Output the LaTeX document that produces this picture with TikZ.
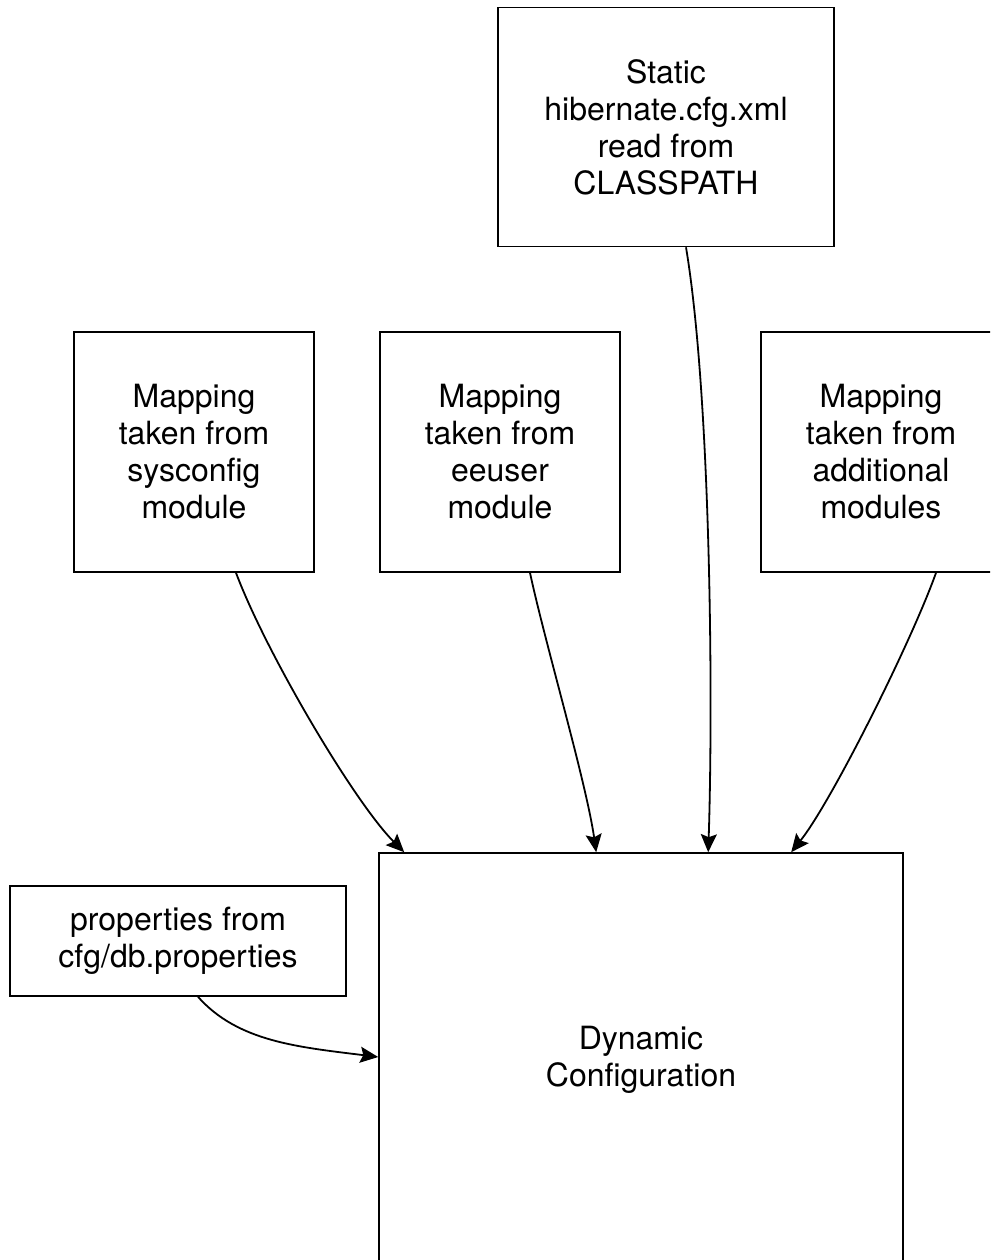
\documentclass[tikz,border=0pt]{standalone}
\usepackage{fontspec}
\setmainfont{TeX Gyre Heros}
\usetikzlibrary{arrows.meta}
\tikzset{
  box/.style={draw, line width=1.6pt, align=center, inner sep=0pt,
    font=\fontsize{32}{37}\selectfont},
  conn/.style={draw, line width=1.8pt, arrows={-Stealth[length=18pt,width=16pt,inset=3pt]}}
}
\begin{document}
\begin{tikzpicture}[x=1pt,y=-1pt]
      \useasboundingbox (0,0) rectangle (990,1260);
      \clip (0,0) rectangle (990,1260);
      \node[box, minimum width=336pt, minimum height=239pt] (static) at (666,127)
        {Static\\hibernate.cfg.xml\\read from\\CLASSPATH};
      \node[box, minimum width=240pt, minimum height=240pt] (sysconfig) at (194,452)
        {Mapping\\taken from\\sysconfig\\module};
      \node[box, minimum width=240pt, minimum height=240pt] (eeuser) at (500,452)
        {Mapping\\taken from\\eeuser\\module};
      \node[box, minimum width=240pt, minimum height=240pt] (additional) at (881,452)
        {Mapping\\taken from\\additional\\modules};
      \node[box, minimum width=336pt, minimum height=110pt] (props) at (178,941)
        {properties from\\cfg/db.properties};
      \node[box, minimum width=524pt, minimum height=414pt] (dynamic) at (641,1060)
        {Dynamic\\Configuration};
      \path[conn] ([xshift=42pt]sysconfig.south) .. controls +(30,80) and +(-50,-50) .. ([xshift=26pt]dynamic.north west);
      \path[conn] ([xshift=30pt]eeuser.south) .. controls +(15,70) and +(-10,-70) .. ([xshift=218pt]dynamic.north west);
      \path[conn] ([xshift=20pt]static.south) .. controls +(25,150) and +(5,-150) .. ([xshift=330pt]dynamic.north west);
      \path[conn] ([xshift=55pt]additional.south) .. controls +(-25,70) and +(40,-50) .. ([xshift=413pt]dynamic.north west);
      \path[conn] ([xshift=20pt]props.south) .. controls +(40,45) and +(-80,-10) .. ([yshift=3pt]dynamic.west);
    \end{tikzpicture}
\end{document}
